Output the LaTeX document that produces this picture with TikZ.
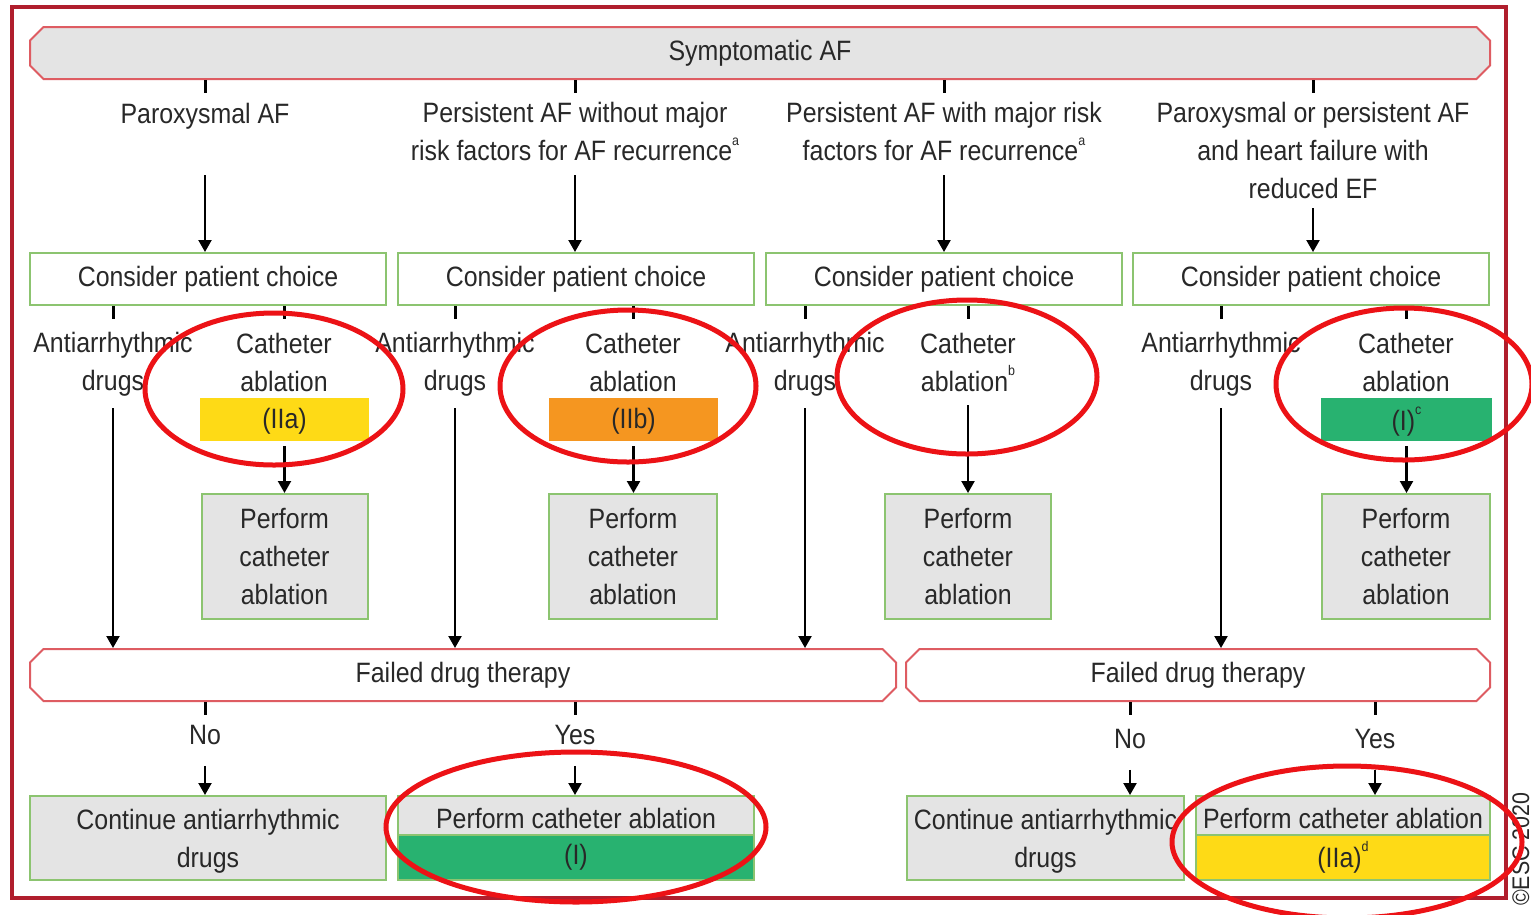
\documentclass[tikz,border=0pt]{standalone}
\usepackage{fontspec}
\setmainfont{Liberation Sans}[FakeStretch=0.89]
\usetikzlibrary{arrows.meta,shapes.misc}
\definecolor{framered}{RGB}{176,30,45}
\definecolor{pinkline}{RGB}{222,92,98}
\definecolor{grn}{RGB}{140,196,112}
\definecolor{gry}{RGB}{228,228,228}
\definecolor{ink}{RGB}{40,40,40}
\definecolor{clsyel}{RGB}{254,218,22}
\definecolor{clsorg}{RGB}{245,150,32}
\definecolor{clsgrn}{RGB}{40,178,112}
\definecolor{hlred}{RGB}{236,18,22}
\newcommand\supx[1]{\raisebox{0.55em}{\fontsize{14}{14}\selectfont #1}}
\newcommand\lowr[2]{\raisebox{-#1}[\height][\depth]{#2}}
\begin{document}
\begin{tikzpicture}[x=1pt,y=-1pt,
  font=\fontsize{28}{38}\selectfont,
  txt/.style={text=ink, align=center, inner sep=0pt},
  chbox/.style={chamfered rectangle, chamfered rectangle angle=45, chamfered rectangle xsep=10pt,
     draw=pinkline, line width=2pt, minimum height=52pt, inner sep=0pt, text=ink},
  cpcbox/.style={draw=grn, line width=2pt, fill=white, minimum width=356pt, minimum height=52pt, inner sep=0pt, text=ink},
  perfbox/.style={draw=grn, line width=2pt, fill=gry, minimum width=166pt, minimum height=125pt, inner sep=0pt, align=center, text=ink},
  clsbox/.style={minimum width=169pt, minimum height=43pt, inner sep=0pt, text=ink},
  botbox/.style={draw=grn, line width=2pt, inner sep=0pt, align=center, text=ink},
  stub/.style={line width=3pt, black},
  arr/.style={line width=2.2pt, black, -{Triangle[width=13pt,length=12pt]}},
  hl/.style={draw=hlred, line width=5pt}]
\useasboundingbox (0,0) rectangle (1531,914);
\fill[white] (0,0) rectangle (1531,914);
% outer frame
\draw[framered, line width=4pt] (12,7) rectangle (1506,898);
% copyright
\node[rotate=90, anchor=base west, inner sep=0pt, text=ink, font=\fontsize{24}{24}\selectfont] (esc) at (1529,906) {\textcopyright ESC 2020};

% top box
\node[chbox, fill=gry, minimum width=1460pt] (sym) at (760,53) {Symptomatic AF};

% category labels
\node[txt] (lab1) at (205,116) {Paroxysmal AF};
\node[txt, anchor=north] (lab2) at (575,102) {Persistent AF without major\\risk factors for AF recurrence\supx{a}};
\node[txt, anchor=north] (lab3) at (944,102) {Persistent AF with major risk\\factors for AF recurrence\supx{a}};
\node[txt, anchor=north] (lab4) at (1313,102) {Paroxysmal or persistent AF\\and heart failure with\\reduced EF};

\foreach \n in {1,2,3,4}{\draw[stub] (sym.south -| lab\n) -- ++(0,13);}

\coordinate (s1) at (205,175);
\coordinate (s2) at (575,175);
\coordinate (s3) at (944,175);
\coordinate (s4) at (1313,208);

% consider patient choice
\node[cpcbox] (cpc1) at (208,279) {Consider patient choice};
\node[cpcbox] (cpc2) at (576,279) {Consider patient choice};
\node[cpcbox] (cpc3) at (944,279) {Consider patient choice};
\node[cpcbox] (cpc4) at (1311,279) {Consider patient choice};

\foreach \n in {1,2,3,4}{\draw[arr] (s\n) -- (s\n |- cpc\n.north);}

% options
\node[txt] (ad1) at (113,364) {Antiarrhythmic\\drugs};
\node[txt] (ad2) at (455,364) {Antiarrhythmic\\drugs};
\node[txt] (ad3) at (805,364) {Antiarrhythmic\\drugs};
\node[txt] (ad4) at (1221,364) {Antiarrhythmic\\drugs};
\node[txt] (ca1) at (284,362) {Catheter\\ablation};
\node[txt] (ca2) at (633,362) {Catheter\\ablation};
\node[txt] (ca3) at (968,362) {Catheter\\ablation\supx{b}};
\node[txt] (ca4) at (1406,362) {Catheter\\ablation};

\foreach \n in {1,2,3,4}{
  \draw[stub] (cpc\n.south -| ad\n) -- ++(0,13);
  \draw[stub] (cpc\n.south -| ca\n) -- ++(0,13);}

% class boxes
\node[clsbox, fill=clsyel] (cl1) at (284.5,419.5) {\lowr{2pt}{(IIa)}};
\node[clsbox, fill=clsorg] (cl2) at (633.5,419.5) {\lowr{2pt}{(IIb)}};
\node[clsbox, fill=clsgrn, minimum width=171pt] (cl4) at (1406.5,419.5) {\lowr{2pt}{(I)\supx{c}}};

% perform boxes
\node[perfbox] (pf1) at (284.5,556.5) {Perform\\catheter\\ablation};
\node[perfbox, minimum width=168pt] (pf2) at (633,556.5) {Perform\\catheter\\ablation};
\node[perfbox] (pf3) at (968,556.5) {Perform\\catheter\\ablation};
\node[perfbox, minimum width=168pt] (pf4) at (1406,556.5) {Perform\\catheter\\ablation};

\draw[arr] ([yshift=-5pt]cl1.south) -- (cl1.south |- pf1.north);
\draw[arr] ([yshift=-5pt]cl2.south) -- (cl2.south |- pf2.north);
\draw[arr] ([yshift=-14pt]ca3.south) -- (ca3.south |- pf3.north);
\draw[arr] ([yshift=-5pt]cl4.south) -- (cl4.south |- pf4.north);

% failed drug therapy
\node[chbox, fill=white, minimum width=866pt] (fd1) at (463,675) {Failed drug therapy};
\node[chbox, fill=white, minimum width=584pt] (fd2) at (1198,675) {Failed drug therapy};

\draw[arr] ([yshift=-12pt]ad1.south) -- (ad1.south |- fd1.north);
\draw[arr] ([yshift=-12pt]ad2.south) -- (ad2.south |- fd1.north);
\draw[arr] ([yshift=-12pt]ad3.south) -- (ad3.south |- fd1.north);
\draw[arr] ([yshift=-12pt]ad4.south) -- (ad4.south |- fd2.north);

% yes / no
\node[txt] (no1) at (205,735) {No};
\node[txt] (yes1) at (575,735) {Yes};
\node[txt] (no2) at (1130,739) {No};
\node[txt] (yes2) at (1375,739) {Yes};
\draw[stub] (fd1.south -| no1) -- ++(0,13);
\draw[stub] (fd1.south -| yes1) -- ++(0,13);
\draw[stub] (fd2.south -| no2) -- ++(0,13);
\draw[stub] (fd2.south -| yes2) -- ++(0,13);

% bottom boxes
\node[botbox, fill=gry, minimum width=356pt, minimum height=84pt] (cont1) at (208,838) {\lowr{3pt}{\begin{tabular}{@{}c@{}}Continue antiarrhythmic\\drugs\end{tabular}}};
\node[botbox, fill=gry, minimum width=356pt, minimum height=39pt] (pca1) at (576,815.5) {\lowr{3pt}{Perform catheter ablation}};
\node[botbox, fill=clsgrn, minimum width=356pt, minimum height=45pt] (pcc1) at (576,857.5) {(I)};
\node[botbox, fill=gry, minimum width=277pt, minimum height=84pt] (cont2) at (1045.5,838) {\lowr{3pt}{\begin{tabular}{@{}c@{}}Continue antiarrhythmic\\drugs\end{tabular}}};
\node[botbox, fill=gry, minimum width=294pt, minimum height=39pt] (pca2) at (1343,815.5) {\lowr{3pt}{Perform catheter ablation}};
\node[botbox, fill=clsyel, minimum width=294pt, minimum height=45pt] (pcc2) at (1343,857.5) {(IIa)\supx{d}};

\draw[arr] ([yshift=-21pt]no1.south) -- (no1.south |- cont1.north);
\draw[arr] ([yshift=-21pt]yes1.south) -- (yes1.south |- pca1.north);
\draw[arr] ([yshift=-21pt]no2.south) -- (no2.south |- cont2.north);
\draw[arr] ([yshift=-21pt]yes2.south) -- (yes2.south |- pca2.north);

% red highlight ellipses
\draw[hl] (274,389) ellipse [x radius=129, y radius=76];
\draw[hl] (628,386) ellipse [x radius=128, y radius=76];
\draw[hl] (967,377) ellipse [x radius=130, y radius=77];
\draw[hl] (1404,384) ellipse [x radius=128, y radius=76];
\draw[hl] (576,827) ellipse [x radius=190, y radius=75];
\draw[hl] (1347,842) ellipse [x radius=175, y radius=76];
\end{tikzpicture}
\end{document}
